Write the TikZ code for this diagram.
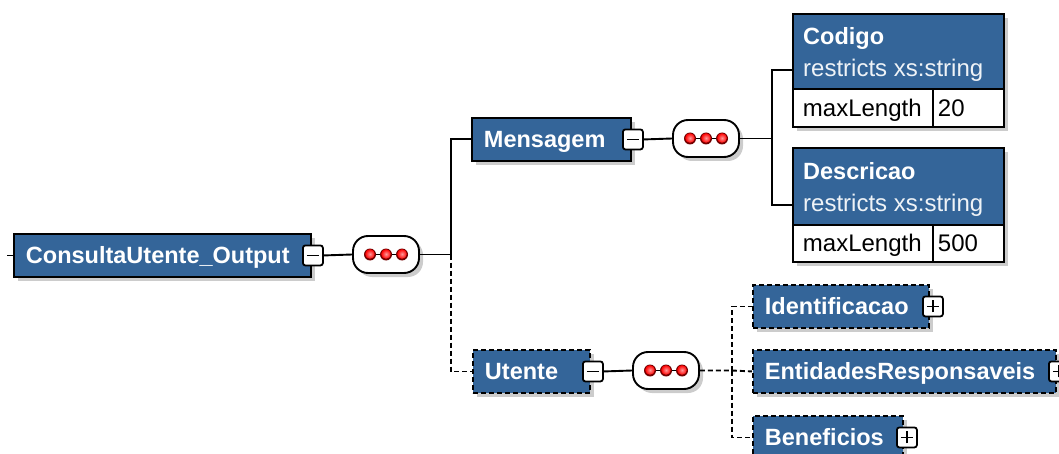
\documentclass[tikz,border=0pt]{standalone}
\usepackage{fontspec}
\setmainfont{Liberation Sans}
\usetikzlibrary{shadows,calc}
\definecolor{xblue}{RGB}{52,101,153}
\begin{document}
\begin{tikzpicture}[x=1pt,y=-1pt,
  shadowed/.style={drop shadow={shadow xshift=4pt,shadow yshift=-4pt,fill=black,opacity=0.2}},
  elem/.style={draw=black,line width=1.9pt,fill=xblue,shadowed,minimum height=43pt,inner xsep=12pt,inner ysep=0pt,
    anchor=north west,font=\fontsize{23.5}{28}\selectfont\bfseries,text=white,align=left,text height=17pt,text depth=0pt},
  optelem/.style={elem,dash pattern=on 5pt off 3pt},
  hdr/.style={draw=black,line width=1.9pt,fill=xblue,shadowed,minimum width=211pt,anchor=north west,inner sep=0pt},
  cell/.style={draw=black,line width=1.9pt,fill=white,shadowed,minimum height=38pt,anchor=north west,inner ysep=0pt,
    font=\fontsize{24}{28}\selectfont,text=black,align=left,text height=17pt,text depth=0pt},
  hname/.style={anchor=base west,inner sep=0pt,font=\fontsize{23.5}{28}\selectfont\bfseries,text=white},
  htype/.style={anchor=base west,inner sep=0pt,font=\fontsize{24}{28}\selectfont,text=white!92!xblue},
  tog/.style={draw=black,fill=white,line width=1.8pt,minimum size=20pt,inner sep=0pt,rounded corners=2.5pt},
  minus/.style={tog,path picture={\draw[line width=1.8pt] ([xshift=-6pt]path picture bounding box.center) -- ([xshift=6pt]path picture bounding box.center);}},
  plus/.style={tog,path picture={\draw[line width=1.8pt] ([xshift=-6pt]path picture bounding box.center) -- ([xshift=6pt]path picture bounding box.center)
      ([yshift=-6pt]path picture bounding box.center) -- ([yshift=6pt]path picture bounding box.center);}},
  seq/.style={draw=black,fill=white,line width=1.9pt,rounded corners=15pt,minimum width=66pt,minimum height=37pt,inner sep=0pt,shadowed},
  conn/.style={line width=1.9pt,draw=black},
  dconn/.style={conn,dash pattern=on 5pt off 3pt}
]
\useasboundingbox (0,0) rectangle (1059,454);

% root
\node[elem,text width=273pt] (cu) at (13,233) {ConsultaUtente\_Output};
\node[minus] (cum) at ([xshift=1pt]cu.east) {};
\node[seq] (s1) at (386,254.5) {};

% Mensagem
\node[elem,text width=135pt] (mens) at (471,117) {Mensagem};
\node[minus] (mensm) at ([xshift=1pt]mens.east) {};
\node[seq] (s2) at (706,138.5) {};

% Codigo
\node[hdr,minimum height=75pt] (cod) at (792,13) {};
\node[hname] (codn) at (803,45) {Codigo};
\node[htype] (codt) at (803,77) {restricts xs:string};
\node[cell,text width=120pt,inner xsep=10pt] (codk) at (792,88) {maxLength};
\node[cell,text width=61pt,inner xsep=5pt] (codv) at (932,88) {20};

% Descricao
\node[hdr,minimum height=77pt] (desc) at (792,147) {};
\node[hname] (descn) at (803,180) {Descricao};
\node[htype] (desct) at (803,212) {restricts xs:string};
\node[cell,text width=120pt,inner xsep=10pt,minimum height=37pt] (desck) at (792,224) {maxLength};
\node[cell,text width=61pt,inner xsep=5pt,minimum height=37pt] (descv) at (932,224) {500};

% Utente
\node[optelem,text width=93pt] (ute) at (472,349) {Utente};
\node[minus] (utem) at ([xshift=2pt]ute.east) {};
\node[seq] (s3) at (666,370.5) {};

\node[optelem,text width=152pt] (ident) at (752,284) {Identificacao};
\node[plus] (identp) at ([xshift=3pt]ident.east) {};
\node[optelem,text width=279pt] (ent) at (752,349) {EntidadesResponsaveis};
\node[plus] (entp) at ([xshift=2pt]ent.east) {};
\node[optelem,text width=126pt] (ben) at (752,415) {Beneficios};
\node[plus] (benp) at ([xshift=3pt]ben.east) {};

% sequence dots
\foreach \s in {s1,s2,s3}{
  \draw[line width=1.8pt] ([xshift=-16pt]\s.center) -- ([xshift=16pt]\s.center);
  \foreach \dx in {-16,0,16}{
    \fill[red!45!black] ([xshift=\dx pt]\s.center) circle (6pt);
    \shade[inner color=red!40!white,outer color=red,shading=radial] ([xshift=\dx pt, yshift=0.5pt]\s.center) circle (4.8pt);
  }
}

% connectors
\coordinate (stub) at ([xshift=-6pt]cu.west);
\draw[conn] (stub) -- (cu.west);
\draw[conn] (cum.east) -- (s1.west);
\coordinate (j1) at (451,254.5);
\draw[conn] (s1.east) -- (j1) |- (mens.west);
\draw[dconn] (j1) |- (ute.west);

\draw[conn] (mensm.east) -- (s2.west);
\coordinate (j2) at (772,138.5);
\draw[conn] (s2.east) -- (j2);
\draw[conn] (j2) |- ([yshift=-57pt]cod.north west);
\draw[conn] (j2) |- ([yshift=-58pt]desc.north west);

\draw[conn] (utem.east) -- (s3.west);
\coordinate (j3) at (732,370.5);
\draw[dconn] (s3.east) -- (j3) -- (ent.west);
\draw[dconn] (j3) |- (ident.west);
\draw[dconn] (j3) |- (ben.west);
\end{tikzpicture}
\end{document}
